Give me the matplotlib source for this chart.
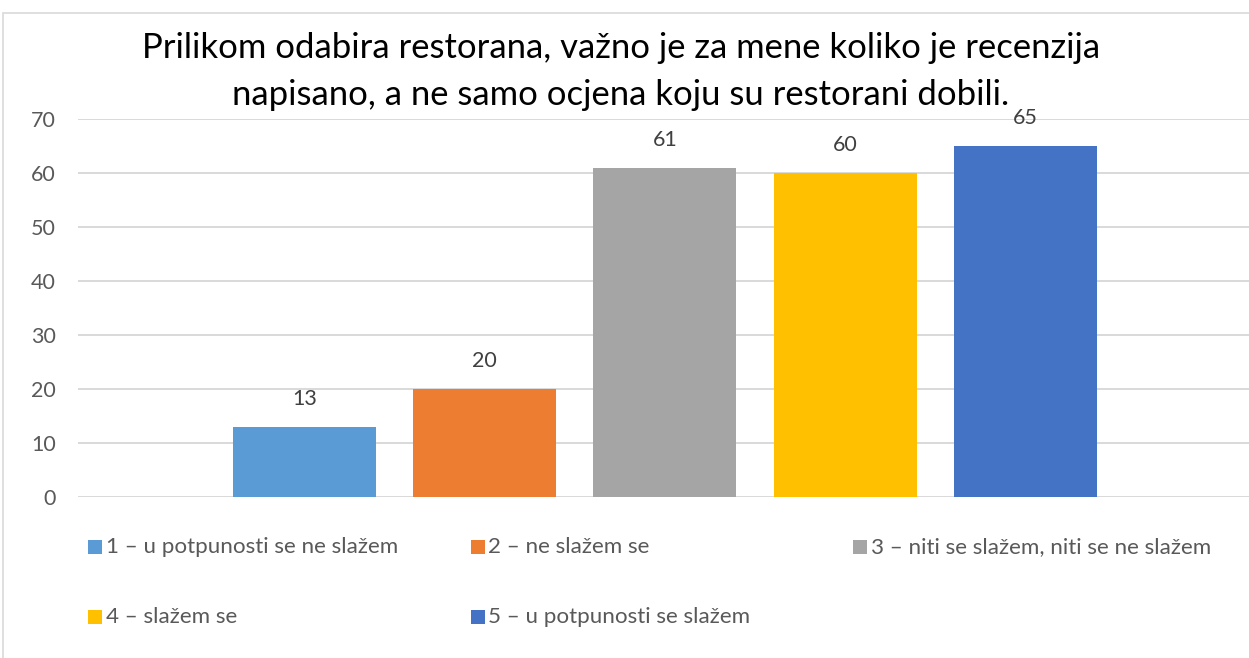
import matplotlib.pyplot as plt
import matplotlib.patches as mpatches
import numpy as np

# --- Data ---
title_lines = ["Prilikom odabira restorana, važno je za mene koliko je recenzija",
               "napisano, a ne samo ocjena koju su restorani dobili."]
labels = ['1 – u potpunosti se ne slažem', '2 – ne slažem se',
          '3 – niti se slažem, niti se ne slažem', '4 – slažem se',
          '5 – u potpunosti se slažem']
values = [13, 20, 61, 60, 65]
yticks = [0, 10, 20, 30, 40, 50, 60, 70]

colors = ['#5B9BD5', '#ED7D31', '#A5A5A5', '#FFC000', '#4472C4']
grid_col = '#D9D9D9'
text_col = '#595959'

W, H, DPI = 1249, 658, 100
plt.rcParams['font.family'] = ['Lato', 'DejaVu Sans']

fig = plt.figure(figsize=(W / DPI, H / DPI), dpi=DPI)

# plot area in pixel terms -> figure fraction
left_px, right_px, top_px, bottom_px = 78, 1249, 119, 497
ax = fig.add_axes([left_px / W, 1 - bottom_px / H,
                   (right_px - left_px) / W, (bottom_px - top_px) / H])

x = np.arange(len(values))
bars = ax.bar(x, values, width=0.794, color=colors, zorder=2)

ax.set_xlim(-1.257, 5.241)
ax.set_ylim(0, 70)
ax.set_yticks(yticks)
ax.set_xticks([])
ax.yaxis.grid(True, color=grid_col, linewidth=1.4, zorder=0)
ax.set_axisbelow(True)
for s in ax.spines.values():
    s.set_visible(False)
ax.tick_params(axis='y', length=0, pad=16, labelsize=15.5, labelcolor=text_col)

# data labels
for b, v in zip(bars, values):
    ax.annotate(str(v), (b.get_x() + b.get_width() / 2, v),
                xytext=(0, 20), textcoords='offset points',
                ha='center', va='center', fontsize=15.5, color='#404040')

# title, two centred lines
for i, line in enumerate(title_lines):
    fig.text(621 / W, 1 - (57.5 + i * 47.5) / H, line, ha='center',
             va='baseline', fontsize=24.9, color='black')

# legend, laid out like Excel: 3 columns, 2 rows
sq = 14
for i, lab in enumerate(labels):
    col, row = i % 3, i // 3
    x0 = 88 + col * 382.5
    yc = 547 + row * 70
    fig.patches.append(mpatches.Rectangle(
        (x0 / W, 1 - (yc + sq / 2) / H), sq / W, sq / H,
        transform=fig.transFigure, facecolor=colors[i], edgecolor='none'))
    fig.text((x0 + sq + 4) / W, 1 - yc / H, lab, ha='left', va='center',
             fontsize=16.1, color=text_col)

# chart frame
fig.patches.append(mpatches.Rectangle(
    (3.5 / W, -0.05), 1.1, 1 - 12.5 / H + 0.05, transform=fig.transFigure,
    facecolor='none', edgecolor=grid_col, linewidth=1.2))

fig.savefig('out.png', dpi=DPI)
